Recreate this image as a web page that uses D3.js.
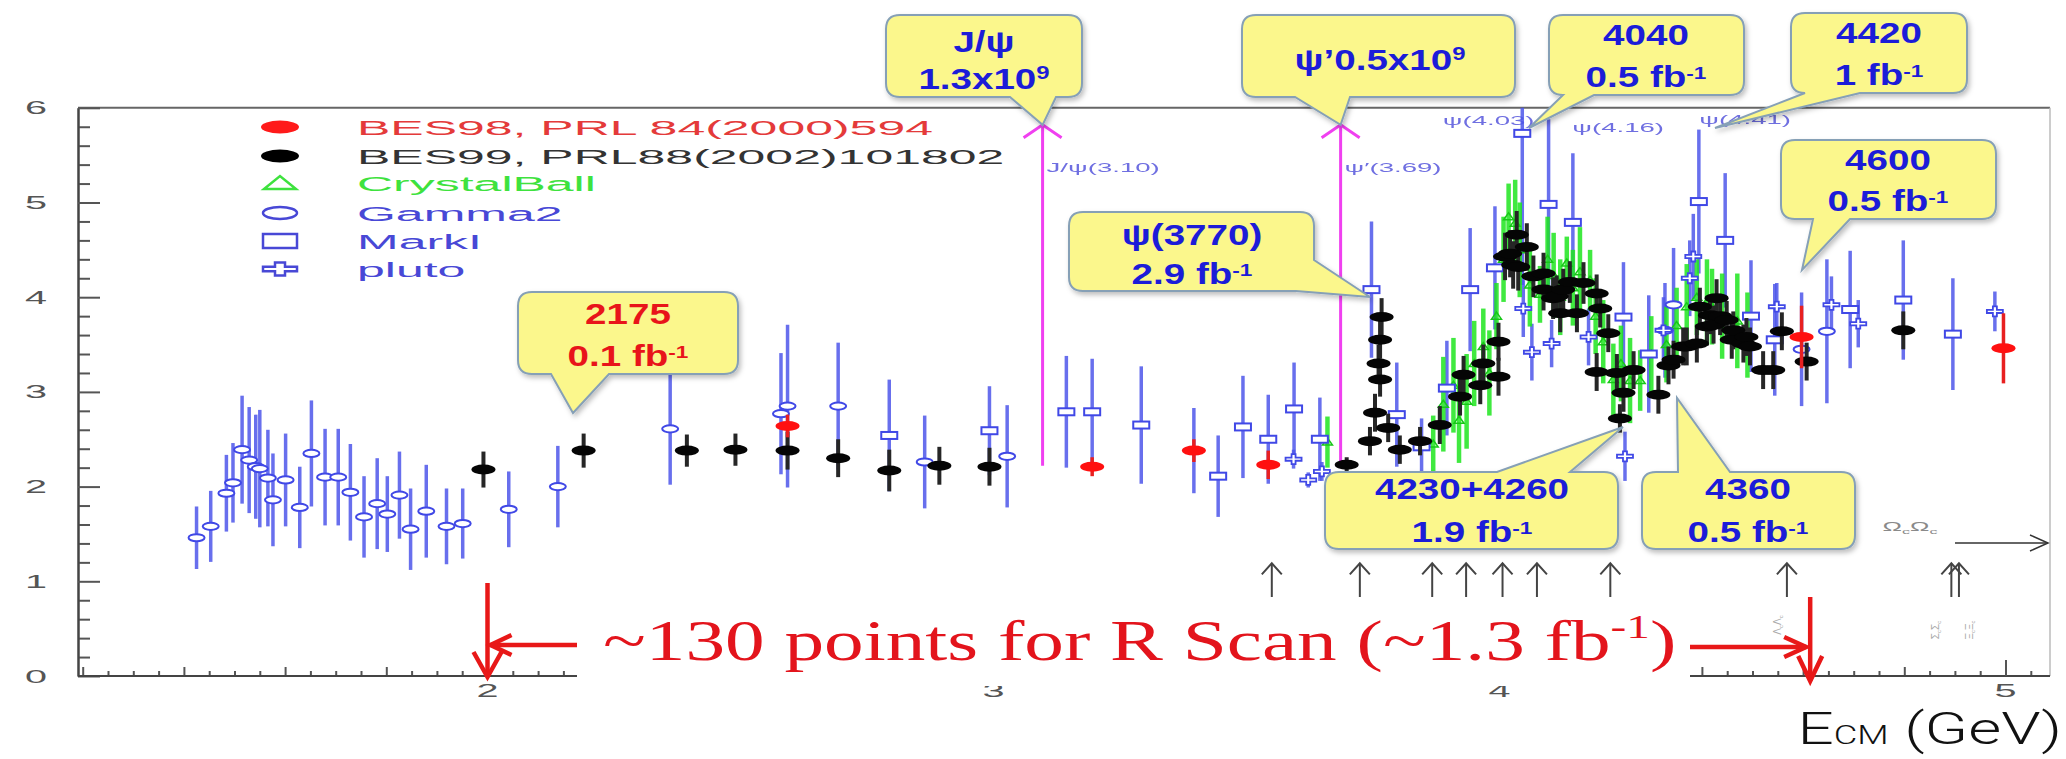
<!DOCTYPE html>
<html>
<head>
<meta charset="utf-8">
<script src="https://cdn.jsdelivr.net/npm/d3@7"></script>
<style>
  html, body { margin: 0; padding: 0; background: #fff; }
  svg { display: block; }
</style>
</head>
<body>
<svg id="chart" width="2066" height="759"></svg>
<script>
// ---- R-value measurements: [E_cm (GeV), R, error] or [E_cm, R, errDown, errUp] ----
const bes98 = [
  [2.593, 2.64, 0.12], [3.195, 2.21, 0.10], [3.396, 2.38, 0.12],
  [3.543, 2.23, 0.15], [4.597, 3.58, 0.33], [4.996, 3.46, 0.37]
];

const bes99 = [
  [1.992, 2.18, 0.19], [2.190, 2.38, 0.18], [2.394, 2.38, 0.17], [2.490, 2.39, 0.17],
  [2.593, 2.38, 0.20], [2.693, 2.30, 0.20], [2.794, 2.17, 0.22], [2.893, 2.22, 0.20],
  [2.992, 2.21, 0.20], [3.698, 2.23, 0.08], [3.744, 2.48, 0.15], [3.754, 2.78, 0.20],
  [3.761, 3.30, 0.20], [3.764, 3.13, 0.18], [3.764, 3.55, 0.20], [3.767, 3.79, 0.20],
  [3.780, 2.62, 0.15], [3.803, 2.39, 0.15], [3.843, 2.48, 0.15], [3.882, 2.65, 0.20],
  [3.922, 2.95, 0.20], [3.929, 3.18, 0.20], [3.962, 3.07, 0.20], [3.968, 3.30, 0.20],
  [3.998, 3.16, 0.20], [3.998, 3.53, 0.20], [4.011, 4.43, 0.25], [4.021, 4.46, 0.25],
  [4.027, 4.34, 0.25], [4.037, 4.32, 0.25], [4.034, 4.66, 0.25], [4.054, 4.53, 0.25],
  [4.067, 4.22, 0.22], [4.087, 4.08, 0.22], [4.087, 4.25, 0.22], [4.106, 3.99, 0.22],
  [4.113, 4.01, 0.22], [4.120, 3.83, 0.20], [4.126, 4.08, 0.22], [4.139, 4.16, 0.22],
  [4.153, 3.83, 0.20], [4.166, 4.15, 0.22], [4.192, 4.04, 0.20], [4.199, 3.88, 0.20],
  [4.215, 3.62, 0.20], [4.192, 3.21, 0.20], [4.232, 3.20, 0.20], [4.245, 2.99, 0.20],
  [4.238, 2.72, 0.15], [4.265, 3.23, 0.20], [4.314, 2.97, 0.20], [4.334, 3.28, 0.20],
  [4.344, 3.34, 0.20], [4.363, 3.48, 0.20], [4.370, 3.48, 0.20], [4.390, 3.51, 0.20],
  [4.396, 3.90, 0.20], [4.410, 3.69, 0.20], [4.416, 3.81, 0.20], [4.423, 3.71, 0.20],
  [4.429, 3.99, 0.20], [4.436, 3.80, 0.20], [4.449, 3.76, 0.20], [4.459, 3.55, 0.20],
  [4.462, 3.65, 0.20], [4.482, 3.51, 0.20], [4.488, 3.58, 0.20], [4.495, 3.48, 0.20],
  [4.521, 3.23, 0.20], [4.541, 3.23, 0.20], [4.558, 3.64, 0.20], [4.607, 3.32, 0.20],
  [4.798, 3.65, 0.20]
];

const crystalBall = [
  [3.660, 2.47, 0.27], [3.869, 2.45, 0.30], [3.889, 2.87, 0.50], [3.909, 3.07, 0.50],
  [3.920, 2.70, 0.45], [3.935, 2.90, 0.50], [3.950, 3.30, 0.45], [3.968, 3.48, 0.40],
  [3.980, 3.20, 0.45], [3.994, 3.80, 0.35], [4.008, 4.40, 0.45], [4.018, 4.85, 0.35],
  [4.031, 4.78, 0.46], [4.040, 4.50, 0.50], [4.060, 4.13, 0.44], [4.080, 4.03, 0.30],
  [4.095, 4.40, 0.45], [4.107, 4.23, 0.45], [4.120, 4.00, 0.40], [4.133, 4.36, 0.28],
  [4.145, 4.10, 0.40], [4.159, 4.27, 0.47], [4.179, 4.18, 0.32], [4.190, 3.80, 0.40],
  [4.205, 3.53, 0.44], [4.225, 3.13, 0.38], [4.240, 3.30, 0.40], [4.258, 3.12, 0.45],
  [4.278, 3.12, 0.32], [4.300, 3.40, 0.40], [4.330, 3.50, 0.40], [4.350, 3.70, 0.40],
  [4.370, 3.90, 0.45], [4.390, 4.00, 0.40], [4.410, 3.95, 0.45], [4.420, 3.90, 0.40],
  [4.440, 3.80, 0.45], [4.470, 3.75, 0.50], [4.490, 3.60, 0.45]
];

const gamma2 = [
  [1.425, 1.46, 0.33], [1.453, 1.58, 0.375], [1.484, 1.93, 0.405], [1.497, 2.04, 0.42],
  [1.515, 2.39, 0.57], [1.529, 2.28, 0.56], [1.542, 2.21, 0.55], [1.550, 2.19, 0.62],
  [1.566, 2.09, 0.51], [1.576, 1.86, 0.49], [1.601, 2.07, 0.49], [1.629, 1.78, 0.43],
  [1.652, 2.35, 0.56], [1.679, 2.10, 0.51], [1.705, 2.10, 0.51], [1.729, 1.94, 0.51],
  [1.756, 1.68, 0.43], [1.782, 1.82, 0.48], [1.802, 1.71, 0.40], [1.826, 1.91, 0.46],
  [1.848, 1.55, 0.43], [1.879, 1.74, 0.49], [1.919, 1.58, 0.40], [1.951, 1.61, 0.37],
  [2.042, 1.76, 0.40], [2.139, 2.00, 0.43], [2.361, 2.61, 0.59, 0.87],
  [2.580, 2.77, 0.64], [2.593, 2.85, 0.86], [2.693, 2.85, 0.67], [2.864, 2.26, 0.49],
  [3.027, 2.32, 0.54], [3.396, 2.38, 0.45], [4.327, 3.65, 0.50], [4.344, 3.92, 0.60],
  [4.597, 3.45, 0.60], [4.647, 3.64, 0.76]
];

const markI = [
  [2.794, 2.54, 0.59], [2.992, 2.59, 0.47], [3.144, 2.79, 0.59], [3.195, 2.79, 0.56],
  [3.292, 2.65, 0.62], [3.444, 2.11, 0.43], [3.493, 2.63, 0.54], [3.543, 2.50, 0.47],
  [3.594, 2.82, 0.49], [3.645, 2.50, 0.44], [3.747, 4.08, 0.72], [3.797, 2.76, 0.55],
  [3.846, 2.42, 0.30], [3.896, 3.04, 0.50], [3.942, 4.08, 0.65], [3.991, 4.31, 0.65],
  [4.045, 5.73, 1.60], [4.097, 4.98, 0.90], [4.145, 4.79, 0.73], [4.245, 3.79, 0.58],
  [4.295, 3.40, 0.62], [4.394, 5.01, 0.76], [4.446, 4.60, 0.71], [4.497, 3.80, 0.59],
  [4.544, 3.55, 0.59], [4.693, 3.87, 0.62], [4.798, 3.97, 0.63], [4.896, 3.61, 0.59]
];

const pluto = [
  [3.593, 2.29, 0.10], [3.622, 2.07, 0.08], [3.649, 2.16, 0.10], [4.047, 3.88, 0.30],
  [4.064, 3.42, 0.30], [4.103, 3.51, 0.25], [4.176, 3.58, 0.30], [4.248, 2.32, 0.26],
  [4.324, 3.65, 0.35], [4.376, 4.20, 0.40], [4.383, 4.43, 0.45], [4.548, 3.90, 0.25],
  [4.656, 3.92, 0.30], [4.709, 3.72, 0.25], [4.979, 3.85, 0.21]
];

// open-charm / baryon pair thresholds (GeV)
const thresholds = [3.550, 3.724, 3.867, 3.934, 4.006, 4.074, 4.219, 4.568, 4.893, 4.908];

// narrow charmonium lines
const narrowLines = [3.097, 3.686];
const resonanceTags = [
  { text: "J/ψ(3.10)", E: 3.097, R: 5.32 },
  { text: "ψ′(3.69)", E: 3.686, R: 5.32 },
  { text: "ψ(4.03)", E: 3.880, R: 5.82 },
  { text: "ψ(4.16)", E: 4.136, R: 5.74 },
  { text: "ψ(4.41)", E: 4.387, R: 5.83 }
];

const yTicks = [0, 1, 2, 3, 4, 5, 6];
const xTicks = [2, 3, 4, 5];

const legendItems = [
  { label: "BES98, PRL 84(2000)594", color: "#e43a3a", shape: "dot", dotFill: "#ff1a1a" },
  { label: "BES99, PRL88(2002)101802", color: "#333333", shape: "dot", dotFill: "#000" },
  { label: "CrystalBall", color: "#3ee23e", shape: "triangle" },
  { label: "Gamma2", color: "#4848d6", shape: "circle" },
  { label: "MarkI", color: "#4848d6", shape: "square" },
  { label: "pluto", color: "#4848d6", shape: "cross" }
];

// ---------------------------------------------------------------
const svg = d3.select("#chart");
const x = d3.scaleLinear().domain([2, 5]).range([487.5, 2005.5]);
const y = d3.scaleLinear().domain([0, 6]).range([676, 107.8]);
const left = 78, right = 2050;
const eMin = x.invert(left), eMax = x.invert(right);

const defs = svg.append("defs");
const shadow = defs.append("filter").attr("id", "shadow")
  .attr("x", "-10%").attr("y", "-10%").attr("width", "130%").attr("height", "140%");
shadow.append("feDropShadow").attr("dx", 2).attr("dy", 3).attr("stdDeviation", 2.5)
  .attr("flood-color", "#000").attr("flood-opacity", 0.25);
defs.append("clipPath").attr("id", "plotclip").append("rect")
  .attr("x", left).attr("y", y(6)).attr("width", right - left).attr("height", y(0) - y(6));

// stretched text helper (the plot is rendered wide)
function label(parent, px, py, parts, o) {
  const t = parent.append("text")
    .attr("transform", `translate(${px},${py}) scale(${o.sx || 1},1)`)
    .attr("text-anchor", o.anchor || "middle")
    .attr("font-family", o.family || "'Liberation Sans', Arial, sans-serif")
    .attr("font-size", o.size)
    .attr("font-weight", o.weight || "normal")
    .attr("fill", o.fill || "#000");
  if (o.opacity) t.attr("opacity", o.opacity);
  parts.forEach(p => {
    if (typeof p === "string") t.append("tspan").text(p);
    else {
      const s = t.append("tspan").text(p.t);
      if (p.size) s.attr("font-size", p.size);
      if (p.dy) s.attr("dy", p.dy);
    }
  });
  return t;
}

// ---- frame ----
svg.append("line").attr("x1", left).attr("x2", right).attr("y1", y(6)).attr("y2", y(6))
  .attr("stroke", "#666").attr("stroke-width", 2);
svg.append("line").attr("x1", right).attr("x2", right).attr("y1", y(6)).attr("y2", y(0))
  .attr("stroke", "#bbb").attr("stroke-width", 1.5);

// ---- axes ----
function styleAxis(g) {
  g.selectAll("path.domain").attr("stroke", "#444").attr("stroke-width", 2);
  g.selectAll(".tick line").attr("stroke", "#555").attr("stroke-width", 2);
  g.selectAll(".tick text").remove();
}
const yMinor = d3.range(0, 6.001, 0.2).filter(v => Math.abs(v - Math.round(v)) > 1e-6);
svg.append("g").attr("transform", `translate(${left},0)`)
  .call(d3.axisLeft(y).tickValues(yMinor).tickSize(-12).tickSizeOuter(0).tickFormat(""))
  .call(styleAxis);
svg.append("g").attr("transform", `translate(${left},0)`)
  .call(d3.axisLeft(y).tickValues(yTicks).tickSize(-22).tickSizeOuter(0).tickFormat(""))
  .call(styleAxis);

const xFine = d3.range(Math.ceil(eMin / 0.05) * 0.05, eMax, 0.05)
  .filter(v => Math.abs(v * 5 - Math.round(v * 5)) > 1e-6);
const xMid = d3.range(Math.ceil(eMin / 0.2) * 0.2, eMax, 0.2)
  .filter(v => Math.abs(v - Math.round(v)) > 1e-6);
const xAxisG = svg.append("g").attr("transform", `translate(0,${y(0)})`);
xAxisG.append("g").call(d3.axisBottom(x).tickValues(xFine).tickSize(-5).tickSizeOuter(0).tickFormat(""))
  .call(styleAxis);
xAxisG.append("g").call(d3.axisBottom(x).tickValues(xMid).tickSize(-9).tickSizeOuter(0).tickFormat(""))
  .call(styleAxis);
xAxisG.append("g").call(d3.axisBottom(x).tickValues(xTicks).tickSize(-16).tickSizeOuter(0).tickFormat(""))
  .call(styleAxis);
xAxisG.selectAll("path.domain").attr("d", `M${left},0H${right}`);

const tickFont = { size: 18, sx: 2.2, fill: "#555" };
yTicks.forEach(v => label(svg, 36, y(v) + 6.5, [String(v)], tickFont));
xTicks.forEach(v => label(svg, x(v), 697, [String(v)], tickFont));

// ---- legend ----
const legend = svg.append("g");
legendItems.forEach((it, i) => {
  const ly = [127, 156, 183, 213, 241, 269][i];
  const g = legend.append("g").attr("transform", `translate(280,${ly})`);
  if (it.shape === "dot") g.append("ellipse").attr("rx", 19).attr("ry", 6.5).attr("fill", it.dotFill);
  if (it.shape === "triangle") g.append("path").attr("d", "M-16,6L16,6L0,-7Z")
    .attr("fill", "none").attr("stroke", it.color).attr("stroke-width", 2.5);
  if (it.shape === "circle") g.append("ellipse").attr("rx", 17).attr("ry", 6)
    .attr("fill", "none").attr("stroke", it.color).attr("stroke-width", 2.5);
  if (it.shape === "square") g.append("rect").attr("x", -17).attr("y", -7).attr("width", 34).attr("height", 14)
    .attr("fill", "none").attr("stroke", it.color).attr("stroke-width", 2.5);
  if (it.shape === "cross") g.append("path")
    .attr("d", "M-17,-2.2H-5V-6.5H5V-2.2H17V2.2H5V6.5H-5V2.2H-17Z")
    .attr("fill", "none").attr("stroke", it.color).attr("stroke-width", 2.5);
  label(legend, 357, ly + 7.5, [it.label], { anchor: "start", size: 21, sx: 2.38, fill: it.color });
});

// ---- narrow-resonance markers ----
narrowLines.forEach(E => {
  const top = y(5.82);
  svg.append("line").attr("x1", x(E)).attr("x2", x(E)).attr("y1", y(2.22)).attr("y2", top)
    .attr("stroke", "#f040f0").attr("stroke-width", 3);
  svg.append("path").attr("d", `M${x(E) - 19},${top + 13}L${x(E)},${top}L${x(E) + 19},${top + 13}`)
    .attr("fill", "none").attr("stroke", "#f040f0").attr("stroke-width", 3);
});
resonanceTags.forEach(t => label(svg, x(t.E) + 4, y(t.R), [t.text],
  { anchor: "start", size: 12, sx: 2.3, fill: "#5656dc", opacity: 0.85 }));

// ---- data ----
const plot = svg.append("g").attr("clip-path", "url(#plotclip)");
const lo = d => d[1] - d[2];
const hi = d => d[1] + (d.length > 3 ? d[3] : d[2]);

function bars(data, color, width, opacity) {
  plot.append("g").selectAll("line").data(data).join("line")
    .attr("x1", d => x(d[0])).attr("x2", d => x(d[0]))
    .attr("y1", d => y(Math.max(0, lo(d)))).attr("y2", d => y(Math.min(6.2, hi(d))))
    .attr("stroke", color).attr("stroke-width", width).attr("opacity", opacity || 1);
}

const blueAll = gamma2.concat(markI, pluto);
bars(blueAll, "#4e57ea", 3.5, 0.85);
bars(crystalBall, "#1fe61f", 4.5, 0.85);
plot.append("g").selectAll("path").data(crystalBall).join("path")
  .attr("transform", d => `translate(${x(d[0])},${y(d[1])})`)
  .attr("d", "M-5,3L5,3L0,-4Z").attr("fill", "none").attr("stroke", "#18c818").attr("stroke-width", 1.5);

plot.append("g").selectAll("ellipse").data(gamma2).join("ellipse")
  .attr("cx", d => x(d[0])).attr("cy", d => y(d[1])).attr("rx", 8).attr("ry", 3.6)
  .attr("fill", "#fff").attr("stroke", "#4048e6").attr("stroke-width", 2);
plot.append("g").selectAll("rect").data(markI).join("rect")
  .attr("x", d => x(d[0]) - 8).attr("y", d => y(d[1]) - 3.5).attr("width", 16).attr("height", 7)
  .attr("fill", "#fff").attr("stroke", "#4048e6").attr("stroke-width", 2);
plot.append("g").selectAll("path").data(pluto).join("path")
  .attr("transform", d => `translate(${x(d[0])},${y(d[1])})`)
  .attr("d", "M-8,-1.6H-2V-5H2V-1.6H8V1.6H2V5H-2V1.6H-8Z")
  .attr("fill", "#fff").attr("stroke", "#4048e6").attr("stroke-width", 1.8);

bars(bes99, "#262626", 4);
plot.append("g").selectAll("ellipse").data(bes99).join("ellipse")
  .attr("cx", d => x(d[0])).attr("cy", d => y(d[1])).attr("rx", 12).attr("ry", 5)
  .attr("fill", "#050505");
bars(bes98, "#e82020", 3.5);
plot.append("g").selectAll("ellipse").data(bes98).join("ellipse")
  .attr("cx", d => x(d[0])).attr("cy", d => y(d[1])).attr("rx", 12).attr("ry", 5)
  .attr("fill", "#ff1010");

// ---- threshold arrows ----
const arrowTop = y(1.19), arrowBottom = 597;
thresholds.forEach(E => {
  const g = svg.append("g").attr("stroke", "#444").attr("stroke-width", 2).attr("fill", "none");
  g.append("line").attr("x1", x(E)).attr("x2", x(E)).attr("y1", arrowTop).attr("y2", arrowBottom);
  g.append("path").attr("d", `M${x(E) - 10},${arrowTop + 11}L${x(E)},${arrowTop}L${x(E) + 10},${arrowTop + 11}`);
});
// Omega_c pair threshold lies beyond the range
label(svg, 1910, 531, ["Ω", { t: "c", size: 8, dy: 3 }, { t: "Ω", dy: -3 }, { t: "c", size: 8, dy: 3 }],
  { size: 13, sx: 2.0, fill: "#8a8a8a" });
svg.append("line").attr("x1", 1955).attr("x2", right - 2).attr("y1", 543).attr("y2", 543)
  .attr("stroke", "#333").attr("stroke-width", 1.5);
svg.append("path").attr("d", `M${right - 20},535L${right - 2},543L${right - 20},551`)
  .attr("fill", "none").attr("stroke", "#333").attr("stroke-width", 1.5);
[[x(4.568) - 6, 625, "Λ", "c", "Λ", "c"], [x(4.893) - 12, 630, "Σ", "c", "Σ", "c"], [x(4.908) + 14, 630, "Ξ", "c", "Ξ", "c"]]
  .forEach(([px, py, a, s, b, s2]) => {
    const t = label(svg, 0, 0, [a, { t: s, size: 6, dy: 2 }, { t: b, dy: -2 }, { t: s2, size: 6, dy: 2 }],
      { size: 10, fill: "#aaa" });
    t.attr("transform", `translate(${px},${py}) rotate(-90)`);
  });

// ---- scan-range annotation ----
svg.append("rect").attr("x", 577).attr("y", 597).attr("width", 1690 - 577).attr("height", 89).attr("fill", "#fff");
label(svg, 603, 660, ["~130 points for R Scan (~1.3 fb", { t: "-1", size: 34, dy: -22 }, { t: ")", dy: 22 }],
  { anchor: "start", size: 57, sx: 1.39, fill: "#e3141c",
    family: "'Liberation Serif', 'Times New Roman', serif" });
const red = svg.append("g").attr("stroke", "#e81818").attr("stroke-width", 4.5).attr("fill", "none");
red.append("line").attr("x1", x(2)).attr("x2", x(2)).attr("y1", 583).attr("y2", 677);
red.append("path").attr("d", `M${x(2) - 14},652L${x(2)},677L${x(2) + 14},652`);
red.append("line").attr("x1", 577).attr("x2", x(2) + 3).attr("y1", 645).attr("y2", 645);
red.append("path").attr("d", `M${x(2) + 24},635L${x(2) + 3},645L${x(2) + 24},655`);
const xEnd = x(4.614);
red.append("line").attr("x1", 1690).attr("x2", xEnd - 4).attr("y1", 647).attr("y2", 647);
red.append("path").attr("d", `M${xEnd - 26},637L${xEnd - 4},647L${xEnd - 26},657`);
red.append("line").attr("x1", xEnd).attr("x2", xEnd).attr("y1", 597).attr("y2", 681);
red.append("path").attr("d", `M${xEnd - 12},656L${xEnd},681L${xEnd + 12},656`);

// ---- callouts ----
function calloutPath(b, p) {
  const [x0, y0, x1, y1] = b, r = 14;
  let d = `M${x0 + r},${y0}`;
  if (p.side === "top") d += `L${p.a},${y0}L${p.tx},${p.ty}L${p.b},${y0}`;
  d += `L${x1 - r},${y0}Q${x1},${y0} ${x1},${y0 + r}`;
  if (p.side === "corner") {
    d += `L${x1},${p.a}L${p.tx},${p.ty}L${p.b},${y1}`;
  } else {
    d += `L${x1},${y1 - r}Q${x1},${y1} ${x1 - r},${y1}`;
    if (p.side === "bottom") d += `L${p.b},${y1}L${p.tx},${p.ty}L${p.a},${y1}`;
  }
  d += `L${x0 + r},${y1}Q${x0},${y1} ${x0},${y1 - r}L${x0},${y0 + r}Q${x0},${y0} ${x0 + r},${y0}Z`;
  return d;
}
const fb = (v) => [v + " fb", { t: "-1", size: 17, dy: -8 }];
const callouts = [
  { box: [518, 292, 738, 374], ptr: { side: "bottom", a: 551, b: 609, tx: 573, ty: 413 },
    cx: 628, lines: [[["2175"], 324], [fb("0.1"), 366]], color: "#e8141a" },
  { box: [886, 15, 1082, 97], ptr: { side: "bottom", a: 1010, b: 1056, tx: x(3.097), ty: y(5.82) },
    cx: 984, lines: [[["J/ψ"], 52], [["1.3x10", { t: "9", size: 18, dy: -10 }], 89]] },
  { box: [1242, 15, 1515, 97], ptr: { side: "bottom", a: 1295, b: 1350, tx: x(3.686), ty: y(5.82) },
    cx: 1380, lines: [[["ψ’0.5x10", { t: "9", size: 18, dy: -10 }], 70]] },
  { box: [1549, 15, 1744, 95], ptr: { side: "bottom", a: 1563, b: 1594, tx: 1529, ty: 128 },
    cx: 1646, lines: [[["4040"], 45], [fb("0.5"), 87]] },
  { box: [1791, 13, 1967, 93], ptr: { side: "bottom", a: 1805, b: 1860, tx: 1715, ty: 128 },
    cx: 1879, lines: [[["4420"], 43], [fb("1"), 85]] },
  { box: [1781, 140, 1996, 219], ptr: { side: "bottom", a: 1813, b: 1850, tx: 1802, ty: 270 },
    cx: 1888, lines: [[["4600"], 170], [fb("0.5"), 211]] },
  { box: [1069, 212, 1314, 291], ptr: { side: "corner", a: 260, b: 1296, tx: 1370, ty: 297 },
    cx: 1192, lines: [[["ψ(3770)"], 245], [fb("2.9"), 284]] },
  { box: [1325, 472, 1618, 549], ptr: { side: "top", a: 1497, b: 1570, tx: 1623, ty: 427 },
    cx: 1472, lines: [[["4230+4260"], 499], [fb("1.9"), 542]] },
  { box: [1642, 472, 1855, 549], ptr: { side: "top", a: 1678, b: 1730, tx: 1677, ty: 398 },
    cx: 1748, lines: [[["4360"], 499], [fb("0.5"), 542]] }
];
callouts.forEach(c => {
  svg.append("path").attr("d", calloutPath(c.box, c.ptr))
    .attr("fill", "#fbf78c").attr("stroke", "#86a0b6").attr("stroke-width", 2)
    .attr("filter", "url(#shadow)");
  c.lines.forEach(([parts, by]) => label(svg, c.cx, by, parts,
    { size: 29, sx: 1.33, weight: "bold", fill: c.color || "#1c1cd8" }));
});

// ---- axis title ----
label(svg, 2062, 744, ["E", { t: "CM", size: 25 }, { t: " (GeV)", size: 44 }],
  { anchor: "end", size: 44, sx: 1.45, fill: "#111", weight: 300,
    family: "Roboto, 'Liberation Sans', sans-serif" });
</script>
</body>
</html>
